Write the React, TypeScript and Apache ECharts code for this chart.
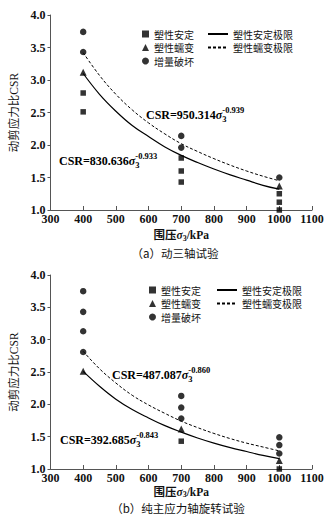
import React, { useEffect, useRef } from "react";
import * as echarts from "echarts";

// ---- data ----
const fitX = [400, 450, 500, 550, 600, 650, 700, 750, 800, 850, 900, 950, 1000];
const triaxialStableLimit = [3.1, 2.78, 2.52, 2.3, 2.13, 1.97, 1.84, 1.73, 1.63, 1.54, 1.46, 1.38, 1.32];
const triaxialCreepLimit = [3.42, 3.07, 2.78, 2.54, 2.34, 2.17, 2.02, 1.9, 1.79, 1.69, 1.6, 1.52, 1.45];
const rotationStableLimit = [2.51, 2.28, 2.08, 1.92, 1.79, 1.67, 1.57, 1.48, 1.4, 1.33, 1.27, 1.21, 1.16];
const rotationCreepLimit = [2.82, 2.55, 2.33, 2.14, 1.99, 1.86, 1.74, 1.64, 1.55, 1.47, 1.4, 1.34, 1.28];

const triaxialStable = [[400, 2.8], [400, 2.51], [700, 1.8], [700, 1.6], [700, 1.43], [1000, 1.25], [1000, 1.12], [1000, 1.0]];
const triaxialCreep = [[400, 3.12], [1000, 1.37]];
const triaxialFailure = [[400, 3.74], [400, 3.43], [700, 2.14], [700, 1.96], [1000, 1.5]];

const rotationStable = [[700, 1.43], [1000, 1.0]];
const rotationCreep = [[400, 2.51], [700, 1.62], [1000, 1.13]];
const rotationFailure = [[400, 3.75], [400, 3.43], [400, 3.13], [400, 2.81], [700, 2.13], [700, 1.95], [700, 1.78], [1000, 1.49], [1000, 1.37], [1000, 1.24]];

const seriesNames = ["塑性安定", "塑性蠕变", "增量破坏", "塑性安定极限", "塑性蠕变极限"];
const formulaCoefs = ["950.314", "830.636", "487.087", "392.685"];
const formulaExps = ["-0.939", "-0.933", "-0.860", "-0.843"];
const captions = ["（a）动三轴试验", "（b）纯主应力轴旋转试验"];
const X_MIN = 300, X_MAX = 1100, X_STEP = 100;
const Y_MIN = 1, Y_MAX = 4, Y_STEP = 0.5;

const SERIF = '"Liberation Serif", "Times New Roman", "Noto Sans CJK SC", serif';
const CJK = '"Noto Sans CJK SC", sans-serif';

function measure(text: string, font: string) {
  const c = document.createElement("canvas").getContext("2d");
  if (!c) return text.length * 6;
  c.font = font;
  return c.measureText(text).width;
}

function formula(x: number, y: number, coef: string, exp: string) {
  const mainW = measure("CSR=" + coef, `bold 12px ${SERIF}`);
  const sigW = measure("σ", `italic bold 12px ${SERIF}`);
  const base = { fontFamily: SERIF, fontWeight: "bold", fill: "#000", stroke: "none" };
  return {
    type: "group",
    x,
    y,
    children: [
      { type: "text", x: 0, y: 0, style: { ...base, text: "CSR=" + coef, fontSize: 12, verticalAlign: "middle", textVerticalAlign: "middle" } },
      { type: "text", x: mainW, y: 0, style: { ...base, text: "σ", fontStyle: "italic", fontSize: 12, verticalAlign: "middle", textVerticalAlign: "middle" } },
      { type: "text", x: mainW + sigW, y: 4, style: { ...base, text: "3", fontSize: 8.5, verticalAlign: "middle", textVerticalAlign: "middle" } },
      { type: "text", x: mainW + sigW, y: -5, style: { ...base, text: exp, fontSize: 8.5, verticalAlign: "middle", textVerticalAlign: "middle" } },
    ],
  };
}

function caption(x: number, y: number, text: string) {
  return {
    type: "text",
    x,
    y,
    style: { text, fontFamily: CJK, fontSize: 11.5, fill: "#111", align: "center", textAlign: "center", verticalAlign: "middle", textVerticalAlign: "middle" },
  };
}

function buildSeries(idx: number, stable: number[][], creep: number[][], failure: number[][], stableLimit: number[], creepLimit: number[]) {
  const common = { xAxisIndex: idx, yAxisIndex: idx };
  return [
    { ...common, type: "scatter", name: seriesNames[0], data: stable, symbol: "rect", symbolSize: 5.5, itemStyle: { color: "#000" }, z: 3 },
    { ...common, type: "scatter", name: seriesNames[1], data: creep, symbol: "triangle", symbolSize: 7, itemStyle: { color: "#000" }, z: 3 },
    { ...common, type: "scatter", name: seriesNames[2], data: failure, symbol: "circle", symbolSize: 6.5, itemStyle: { color: "#000" }, z: 3 },
    { ...common, type: "line", name: seriesNames[3], data: fitX.map((x, k) => [x, stableLimit[k]]), smooth: 0.4, symbol: "none", lineStyle: { color: "#000", width: 1.2, type: "solid" }, itemStyle: { color: "#000" }, z: 2 },
    { ...common, type: "line", name: seriesNames[4], data: fitX.map((x, k) => [x, creepLimit[k]]), smooth: 0.4, symbol: "none", lineStyle: { color: "#000", width: 1, type: [3, 2] }, itemStyle: { color: "#000" }, z: 2 },
  ];
}

function xAxis(idx: number, nameGap: number) {
  return {
    gridIndex: idx,
    type: "value",
    min: X_MIN,
    max: X_MAX,
    interval: X_STEP,
    name: "围压{i|σ}{s|3}/kPa",
    nameLocation: "middle",
    nameGap,
    nameTextStyle: {
      fontFamily: SERIF,
      fontSize: 11.5,
      fontWeight: "bold",
      color: "#111",
      lineHeight: 14,
      rich: {
        i: { fontFamily: SERIF, fontStyle: "italic", fontWeight: "bold", fontSize: 11.5, color: "#111", lineHeight: 14 },
        s: { fontFamily: SERIF, fontWeight: "bold", fontSize: 8, color: "#111", verticalAlign: "bottom", lineHeight: 8 },
      },
    },
    axisLine: { lineStyle: { color: "#555", width: 1 } },
    axisTick: { inside: true, length: 4, lineStyle: { color: "#555" } },
    splitLine: { show: false },
    axisLabel: { margin: 3, fontSize: 12, fontFamily: SERIF, fontWeight: "bold", color: "#111", formatter: (v: number) => String(v) },
  };
}

function yAxis(idx: number) {
  return {
    gridIndex: idx,
    type: "value",
    min: Y_MIN,
    max: Y_MAX,
    interval: Y_STEP,
    name: "动剪应力比CSR",
    nameLocation: "middle",
    nameGap: 31,
    nameTextStyle: { fontFamily: SERIF, fontSize: 11.5, color: "#111" },
    axisLine: { show: true, lineStyle: { color: "#555", width: 1 } },
    axisTick: { show: true, inside: false, length: 3, lineStyle: { color: "#555" } },
    splitLine: { show: false },
    axisLabel: { margin: 5, fontSize: 12, fontFamily: SERIF, fontWeight: "bold", color: "#111", formatter: (v: number) => v.toFixed(1) },
  };
}

function legends(left1: number, left2: number, top: number, gap: number) {
  const textStyle = { fontFamily: CJK, fontSize: 10, color: "#111" };
  return [
    { orient: "vertical", left: left1, top, padding: 0, itemGap: gap, itemWidth: 7, itemHeight: 7, selectedMode: false, data: seriesNames.slice(0, 3), textStyle },
    {
      orient: "vertical", left: left2, top, padding: 0, itemGap: gap, itemWidth: 20, itemHeight: 10, selectedMode: false,
      data: seriesNames.slice(3), textStyle,
      itemStyle: { color: "rgba(0,0,0,0)", borderColor: "rgba(0,0,0,0)", borderWidth: 0, opacity: 0 },
    },
  ];
}

export default function App() {
  const ref = useRef<HTMLDivElement>(null);
  useEffect(() => {
    if (!ref.current) return;
    const chart = echarts.init(ref.current, undefined, { renderer: "svg" });
    chart.setOption({
      animation: false,
      backgroundColor: "#fff",
      grid: [
        { left: 48, top: 15, right: 24, height: 195 },
        { left: 48, top: 275, right: 24, height: 194 },
      ],
      xAxis: [xAxis(0, 18), xAxis(1, 15)],
      yAxis: [yAxis(0), yAxis(1)],
      legend: [...legends(142, 207, 29, 3.5), ...legends(149, 216, 285, 3.5)],
      series: [
        ...buildSeries(0, triaxialStable, triaxialCreep, triaxialFailure, triaxialStableLimit, triaxialCreepLimit),
        ...buildSeries(1, rotationStable, rotationCreep, rotationFailure, rotationStableLimit, rotationCreepLimit),
      ],
      graphic: [
        formula(146, 115, formulaCoefs[0], formulaExps[0]),
        formula(59, 161, formulaCoefs[1], formulaExps[1]),
        formula(112, 375, formulaCoefs[2], formulaExps[2]),
        formula(60, 440, formulaCoefs[3], formulaExps[3]),
        caption(175, 253, captions[0]),
        caption(178, 508, captions[1]),
      ],
    });
    return () => chart.dispose();
  }, []);
  return <div ref={ref} style={{ position: "absolute", left: 0, top: 0, width: 336, height: 524 }} />;
}
